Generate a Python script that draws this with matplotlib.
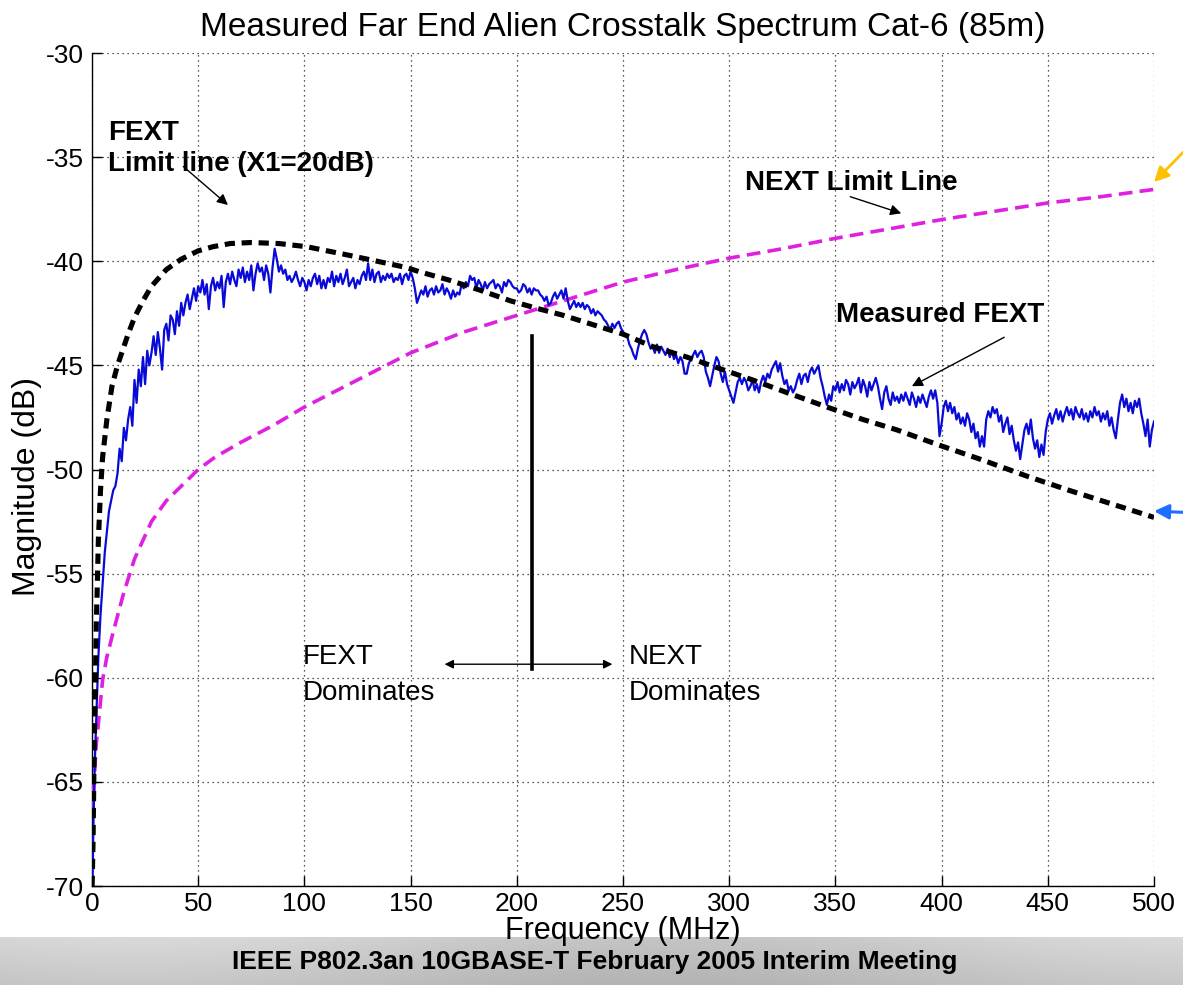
import numpy as np
import matplotlib
matplotlib.use("Agg")
import matplotlib.pyplot as plt

# ---------------- data ----------------
title = "Measured Far End Alien Crosstalk Spectrum Cat-6 (85m)"
x_ticks = [0, 50, 100, 150, 200, 250, 300, 350, 400, 450, 500]
y_ticks = [-70, -65, -60, -55, -50, -45, -40, -35, -30]

# FEXT limit line (X1 = 20 dB)
fext_lim_f = [0.05, 0.5, 1, 1.5, 2, 2.5, 3, 4, 5, 7, 9.4, 12, 14, 17, 20, 24, 28,
              35, 42, 50, 57, 65, 75, 88, 101, 118, 132, 148, 154, 168, 183, 197,
              209, 222, 236, 250, 264, 280, 294, 311, 327, 346, 363, 379, 398,
              418, 441, 460, 480, 500]
fext_lim_db = [-70.0, -67.8, -63.5, -60.8, -57.5, -55.6, -53.4, -51.0, -49.4, -47.6,
               -46.0, -45.0, -44.4, -43.5, -42.7, -41.9, -41.2, -40.4, -39.9, -39.5,
               -39.3, -39.15, -39.1, -39.15, -39.3, -39.65, -39.95, -40.3, -40.5,
               -40.9, -41.4, -41.9, -42.25, -42.6, -43.05, -43.5, -44.1, -44.6,
               -45.1, -45.7, -46.3, -47.0, -47.6, -48.1, -48.8, -49.5, -50.35,
               -51.0, -51.65, -52.3]

# NEXT limit line
next_lim_f = [0.3, 1, 2, 3, 5, 7, 10, 15, 20, 28, 35, 44, 50, 58, 70, 85, 100, 125,
              150, 175, 200, 225, 250, 275, 300, 325, 350, 375, 400, 425, 450, 475, 500]
next_lim_db = [-66.5, -65.0, -63.2, -62.2, -60.1, -59.0, -57.8, -55.9, -54.3, -52.5,
               -51.5, -50.6, -50.0, -49.4, -48.7, -47.9, -47.0, -45.7, -44.4, -43.4,
               -42.6, -41.8, -41.0, -40.4, -39.85, -39.4, -38.9, -38.45, -38.0,
               -37.6, -37.2, -36.9, -36.55]

# Measured FEXT spectrum
meas_f = [0.3, 0.6, 1, 1.5, 2, 2.5, 3, 4, 5, 6, 7, 8, 9] + list(range(10, 501))
meas_db = [
    -69.5, -67.5, -65.5, -63.5, -62.0, -60.5, -59.0, -57.0, -55.5, -54.0, -53.0, -52.0, -51.5,
    -51.0, -50.8, -50.2, -49.0, -49.6, -48.0, -48.6, -47.6, -47.0, -47.9,   # 10-19
    -45.7, -46.8, -45.2, -46.0, -44.6, -45.9, -44.3, -45.0, -44.4, -43.6,   # 20-29
    -44.5, -43.4, -44.2, -45.2, -43.3, -43.0, -43.8, -42.6, -42.8, -43.5,   # 30-39
    -42.4, -43.1, -42.0, -42.6, -42.0, -41.6, -42.3, -41.8, -41.3, -41.9,   # 40-49
    -41.2, -41.5, -40.9, -41.6, -41.1, -42.3, -41.2, -40.8, -41.4, -41.0,   # 50-59
    -41.3, -40.7, -42.2, -41.0, -40.6, -41.1, -40.5, -40.9, -41.2, -40.4,   # 60-69
    -40.8, -40.3, -41.0, -40.5, -40.9, -40.2, -41.4, -40.6, -40.1, -40.5,   # 70-79
    -40.3, -40.9, -40.2, -40.6, -41.5, -40.3, -39.4, -39.9, -40.5, -40.2,   # 80-89
    -40.6, -40.4, -40.9, -40.7, -41.0, -40.8, -40.5, -40.9, -41.2, -40.8,   # 90-99
    -41.0, -41.4, -40.9, -41.2, -40.8, -40.6, -41.1, -40.7, -41.3, -40.9,   # 100-109
    -41.3, -40.8, -41.0, -40.5, -41.2, -40.7, -41.0, -40.6, -41.1, -40.8,   # 110-119
    -40.4, -41.2, -41.0, -40.8, -41.3, -40.9, -41.1, -40.7, -40.5, -40.9,   # 120-129
    -40.1, -40.9, -40.4, -41.0, -40.6, -40.5, -41.0, -40.7, -40.9, -40.6,   # 130-139
    -40.8, -40.6, -41.0, -40.8, -40.9, -40.6, -41.1, -40.7, -40.6, -40.9,   # 140-149
    -40.5, -40.8, -41.3, -42.0, -41.7, -41.4, -41.6, -41.2, -41.7, -41.4,   # 150-159
    -41.3, -41.6, -41.2, -41.5, -41.4, -41.1, -41.6, -41.3, -41.5, -41.8,   # 160-169
    -41.4, -41.7, -41.5, -41.6, -41.1, -41.3, -41.0, -41.2, -40.7, -40.9,   # 170-179
    -40.8, -41.3, -40.9, -41.1, -41.4, -41.0, -41.3, -41.1, -41.0, -40.9,   # 180-189
    -41.3, -41.1, -41.2, -41.5, -41.0, -41.2, -40.9, -41.0, -41.2, -41.3,   # 190-199
    -41.3, -41.5, -41.4, -41.1, -41.2, -41.5, -41.3, -41.6, -41.3, -41.4,   # 200-209
    -41.4, -41.6, -41.7, -41.9, -41.7, -42.1, -42.0, -41.7, -41.5, -41.8,   # 210-219
    -41.6, -41.4, -41.8, -41.3, -41.9, -42.3, -42.1, -41.9, -42.2, -42.0,   # 220-229
    -42.2, -42.0, -42.3, -42.1, -42.2, -42.5, -42.3, -42.6, -42.4, -42.5,   # 230-239
    -42.6, -42.8, -42.9, -43.1, -43.3, -43.0, -43.2, -43.0, -42.9, -43.2,   # 240-249
    -43.4, -43.5, -43.6, -44.0, -44.2, -44.5, -44.7, -44.2, -43.8, -43.5,   # 250-259
    -43.3, -43.5, -43.9, -44.2, -44.1, -44.4, -44.0, -44.4, -44.1, -44.3,   # 260-269
    -44.5, -44.2, -44.6, -44.3, -44.7, -44.5, -44.9, -44.6, -44.8, -45.4,   # 270-279
    -45.4, -44.9, -44.7, -44.5, -44.3, -44.6, -44.4, -44.3, -44.6, -45.3,   # 280-289
    -45.6, -46.0, -45.5, -45.0, -44.6, -44.8, -45.4, -45.8, -45.3, -45.9,   # 290-299
    -46.2, -46.5, -46.8, -46.3, -45.8, -45.6, -45.9, -45.6, -45.8, -46.2,   # 300-309
    -46.0, -45.7, -46.2, -45.9, -46.3, -45.8, -45.5, -45.8, -45.4, -45.6,   # 310-319
    -45.2, -45.0, -44.8, -45.3, -44.9, -45.5, -45.9, -45.7, -46.2, -46.0,   # 320-329
    -46.3, -46.1, -45.7, -45.4, -45.9, -45.5, -45.4, -45.8, -45.3, -45.1,   # 330-339
    -45.4, -45.2, -45.0, -45.6, -46.0, -46.5, -46.9, -46.4, -46.7, -46.0,   # 340-349
    -46.2, -45.8, -46.3, -45.9, -46.2, -45.7, -45.9, -46.4, -45.8, -46.1,   # 350-359
    -45.9, -45.6, -46.3, -45.7, -46.0, -46.5, -45.8, -46.2, -45.9, -45.6,   # 360-369
    -46.0, -46.6, -47.1, -46.3, -46.0, -46.6, -46.9, -46.3, -46.7, -46.5,   # 370-379
    -46.8, -46.4, -46.7, -46.3, -46.6, -46.9, -46.3, -46.6, -47.0, -46.5,   # 380-389
    -46.8, -46.4, -46.7, -47.0, -46.5, -46.2, -46.6, -46.2, -46.8, -48.4,   # 390-399
    -47.8, -47.0, -46.7, -47.2, -46.8, -47.3, -47.0, -47.6, -47.3, -47.8,   # 400-409
    -47.5, -47.9, -47.3, -47.6, -48.2, -47.8, -48.5, -48.2, -48.9, -48.4,   # 410-419
    -48.9, -47.6, -47.2, -47.5, -47.0, -47.3, -47.1, -47.7, -47.4, -48.2,   # 420-429
    -47.8, -47.5, -48.3, -47.9, -48.6, -49.1, -48.7, -49.5, -48.8, -48.1,   # 430-439
    -47.8, -48.3, -47.6, -48.5, -49.0, -48.6, -49.4, -48.8, -49.3, -48.2,   # 440-449
    -47.6, -47.3, -47.8, -47.4, -47.1, -47.6, -47.2, -47.7, -47.3, -47.0,   # 450-459
    -47.4, -47.1, -47.6, -47.0, -47.3, -47.5, -47.1, -47.6, -47.3, -47.7,   # 460-469
    -47.2, -47.5, -47.0, -47.4, -47.2, -47.7, -47.3, -47.6, -47.2, -47.9,   # 470-479
    -47.5, -48.1, -48.5, -47.6, -46.8, -46.4, -47.0, -46.6, -47.2, -46.8,   # 480-489
    -47.3, -46.7, -47.0, -46.6, -47.3, -47.8, -48.4, -47.6, -48.9, -48.1,   # 490-499
    -47.7,                                                                  # 500
]

# boundary marker (FEXT / NEXT dominance)
split_f = 207
split_top_db = -43.6
split_bot_db = -59.6
arrow_db = -59.35
arrow_left_f = 166
arrow_right_f = 245

# ---------------- figure ----------------
W, H = 1183, 985
plt.rcParams["font.family"] = ["Liberation Sans", "DejaVu Sans"]
plt.rcParams["axes.unicode_minus"] = False
fig = plt.figure(figsize=(W / 100, H / 100), dpi=100)
fig.patch.set_facecolor("white")

# bottom gray banner
band = fig.add_axes([0, 0, 1, 48 / H])
gx = np.linspace(0, 1, 400)
gy = np.linspace(0, 1, 40)
GX, GY = np.meshgrid(gx, gy)
shade = 0.74 + 0.04 * np.sin(GX * 7.0 + 0.8) + 0.07 * GY
band.imshow(shade, cmap="gray", vmin=0, vmax=1, aspect="auto",
            extent=[0, 1, 0, 1], origin="lower")
band.set_axis_off()
band.text(0.503, 0.48, "IEEE P802.3an 10GBASE-T February 2005 Interim Meeting",
          ha="center", va="center", fontsize=19, fontweight="bold",
          transform=band.transAxes)

ax = fig.add_axes([92 / W, (H - 886) / H, (1154 - 92) / W, (886 - 53) / H])
ax.set_xlim(0, 500)
ax.set_ylim(-70, -30)
ax.set_xticks(x_ticks)
ax.set_yticks(y_ticks)
ax.tick_params(direction="in", length=7, width=1, labelsize=19, pad=6,
               top=False, right=False)
ax.tick_params(axis="x", pad=4)
for s in ("top", "right"):
    ax.spines[s].set_visible(False)
for s in ("left", "bottom"):
    ax.spines[s].set_linewidth(1.0)
ax.grid(True, color="#222222", linestyle=(0, (1, 3)), linewidth=0.9)
ax.set_axisbelow(True)

n = min(len(meas_f), len(meas_db))
ax.plot(next_lim_f, next_lim_db, color="#E020E0", lw=2.6,
        dashes=(3.8, 2.0), zorder=3)
ax.plot(meas_f[:n], meas_db[:n], color="#0A0AD8", lw=1.6, zorder=4)
ax.plot(fext_lim_f, fext_lim_db, color="black", lw=3.7,
        dashes=(2.0, 1.3), zorder=5)

# dominance split
ax.plot([split_f, split_f], [split_top_db, split_bot_db], color="black", lw=2.6, zorder=6)
ax.annotate("", xy=(arrow_left_f, arrow_db), xytext=(arrow_right_f, arrow_db),
            arrowprops=dict(arrowstyle="<|-|>", color="black", lw=1.0,
                            mutation_scale=13, shrinkA=0, shrinkB=0), zorder=6)

ax.set_title(title, fontsize=24, pad=12)
ax.set_xlabel("Frequency (MHz)", fontsize=22, labelpad=0)
ax.set_ylabel("Magnitude (dB)", fontsize=23)
ax.yaxis.set_label_coords(-0.047, 0.479)

# annotations
bold = dict(fontsize=20, fontweight="bold", color="black")
ax.text(7.5, -34.2, "FEXT", **bold)
ax.text(7.5, -35.66, "Limit line (X1=20dB)", **bold)
ax.text(307.5, -36.58, "NEXT Limit Line", **bold)
ax.text(350.5, -42.9, "Measured FEXT", **bold)
norm = dict(fontsize=20, color="black")
ax.text(99, -59.35, "FEXT", **norm)
ax.text(99, -61.05, "Dominates", **norm)
ax.text(252.5, -59.35, "NEXT", **norm)
ax.text(252.5, -61.05, "Dominates", **norm)

arr = dict(arrowstyle="-|>", color="black", lw=1.0, mutation_scale=16,
           shrinkA=0, shrinkB=0)
ax.annotate("", xy=(64, -37.3), xytext=(43, -35.45), arrowprops=arr)
ax.annotate("", xy=(381, -37.7), xytext=(357, -36.9), arrowprops=arr)
ax.annotate("", xy=(386, -46.0), xytext=(429.5, -43.65), arrowprops=arr)

# coloured pointer arrows at the right edge
ax.annotate("", xy=(500, -36.2), xycoords="data", xytext=(1200, 850),
            textcoords="figure pixels", annotation_clip=False,
            arrowprops=dict(arrowstyle="-|>", color="#FFC000", lw=2.0,
                            mutation_scale=22, shrinkA=0, shrinkB=0))
ax.annotate("", xy=(500, -52.0), xycoords="data", xytext=(1200, H - 513),
            textcoords="figure pixels", annotation_clip=False,
            arrowprops=dict(arrowstyle="-|>", color="#1E6EFF", lw=2.2,
                            mutation_scale=22, shrinkA=0, shrinkB=0))

fig.savefig("out.png", dpi=100, facecolor=fig.get_facecolor())
